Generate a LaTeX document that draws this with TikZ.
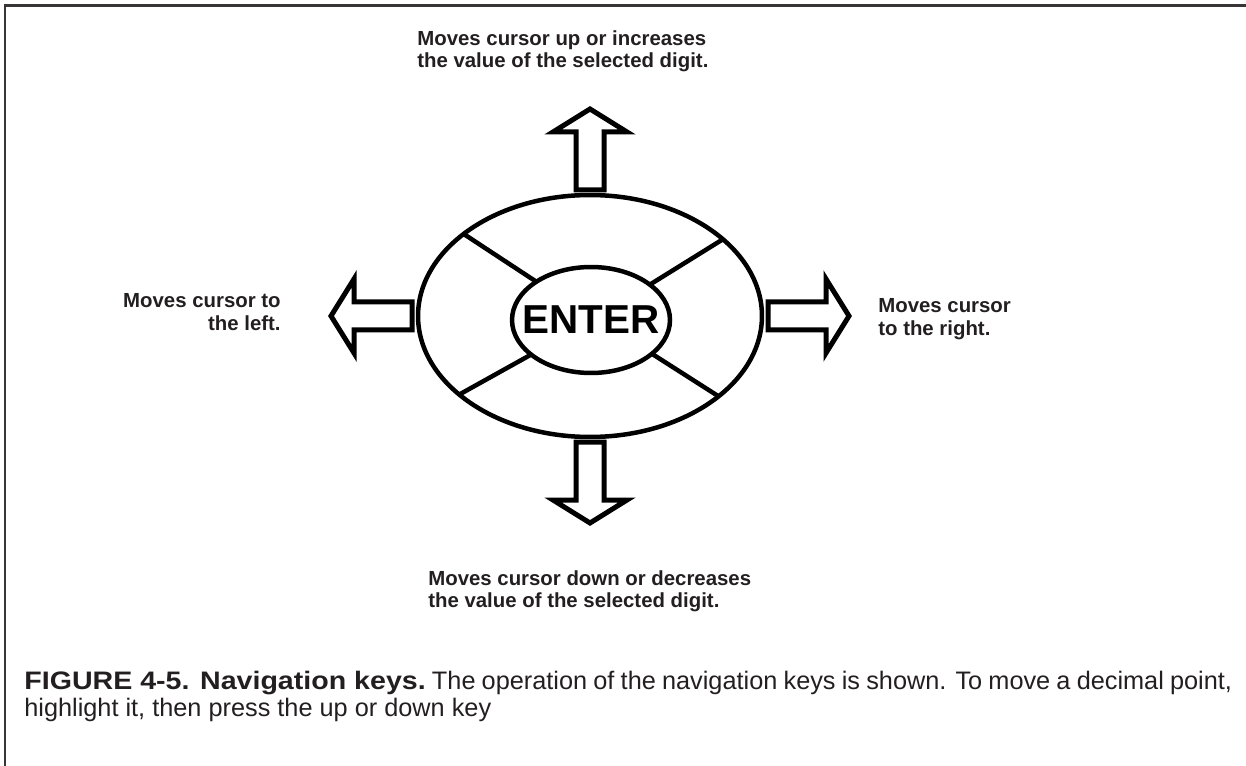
\documentclass[tikz,border=0pt]{standalone}
\usepackage{graphicx}
\usepackage{fontspec}
\setmainfont{Liberation Sans}
\usetikzlibrary{shapes.geometric}
\definecolor{ink}{RGB}{35,31,32}
\begin{document}
\begin{tikzpicture}[x=0.02cm,y=-0.02cm,
    frameline/.style={line width=0.06cm,draw=ink!90},
    ring/.style={draw,ellipse,line width=0.09cm,inner sep=0pt,outer sep=0pt},
    spoke/.style={line width=0.09cm},
    hint/.style={font=\bfseries\fontsize{11.6}{13}\selectfont,text=ink,inner sep=0pt},
    keyarrow/.pic={\draw[line width=0.1cm,line join=miter]
      (0,-14) -- (58,-14) -- (58,-37) -- (81,0) -- (58,37) -- (58,14) -- (0,14) -- cycle;}]
  \useasboundingbox (0,0) rectangle (1246,766);
  \draw[frameline] (5,766) |- (1246,6);
  % the key pad
  \node[ring,minimum width=6.88cm,minimum height=4.84cm] (pad) at (590,316) {};
  \node[ring,minimum width=3.16cm,minimum height=2.12cm,
    label={[font=\bfseries\fontsize{23}{23}\selectfont]center:ENTER}] (enter) at (591,320) {};
  \begin{scope}[spoke]
    \draw (enter.145) -- (pad.147);
    \draw (enter.31) -- (pad.30);
    \draw (enter.210) -- (pad.211);
    \draw (enter.331) -- (pad.328);
  \end{scope}
  % arrows
  \pic[rotate=90] at (590,190) {keyarrow};
  \pic[rotate=-90] at (590,442) {keyarrow};
  \pic[rotate=180] at (412,316) {keyarrow};
  \pic at (768,316) {keyarrow};
  % texts
  \node[hint,anchor=north west,align=left] (uptext) at (417,30)
    {Moves cursor up or increases\\the value of the selected digit.};
  \node[hint,anchor=north east,align=right] (lefttext) at (281,293)
    {Moves cursor to\\the left.};
  \node[hint,anchor=north west,align=left] (righttext) at (878,298)
    {Moves cursor\\to the right.};
  \node[hint,anchor=north west,align=left] (downtext) at (428,570)
    {Moves cursor down or decreases\\the value of the selected digit.};
  \node[anchor=north west,inner sep=0pt,text width=24.16cm,align=justify,text=ink,
    font=\fontsize{14.4}{15.2}\selectfont] (caption) at (24,671)
    {\scalebox{1.13}[1]{\textbf{FIGURE 4-5. Navigation keys.}} The operation of the navigation keys is shown. To move a decimal point, highlight it, then press the up or down key};
\end{tikzpicture}
\end{document}
